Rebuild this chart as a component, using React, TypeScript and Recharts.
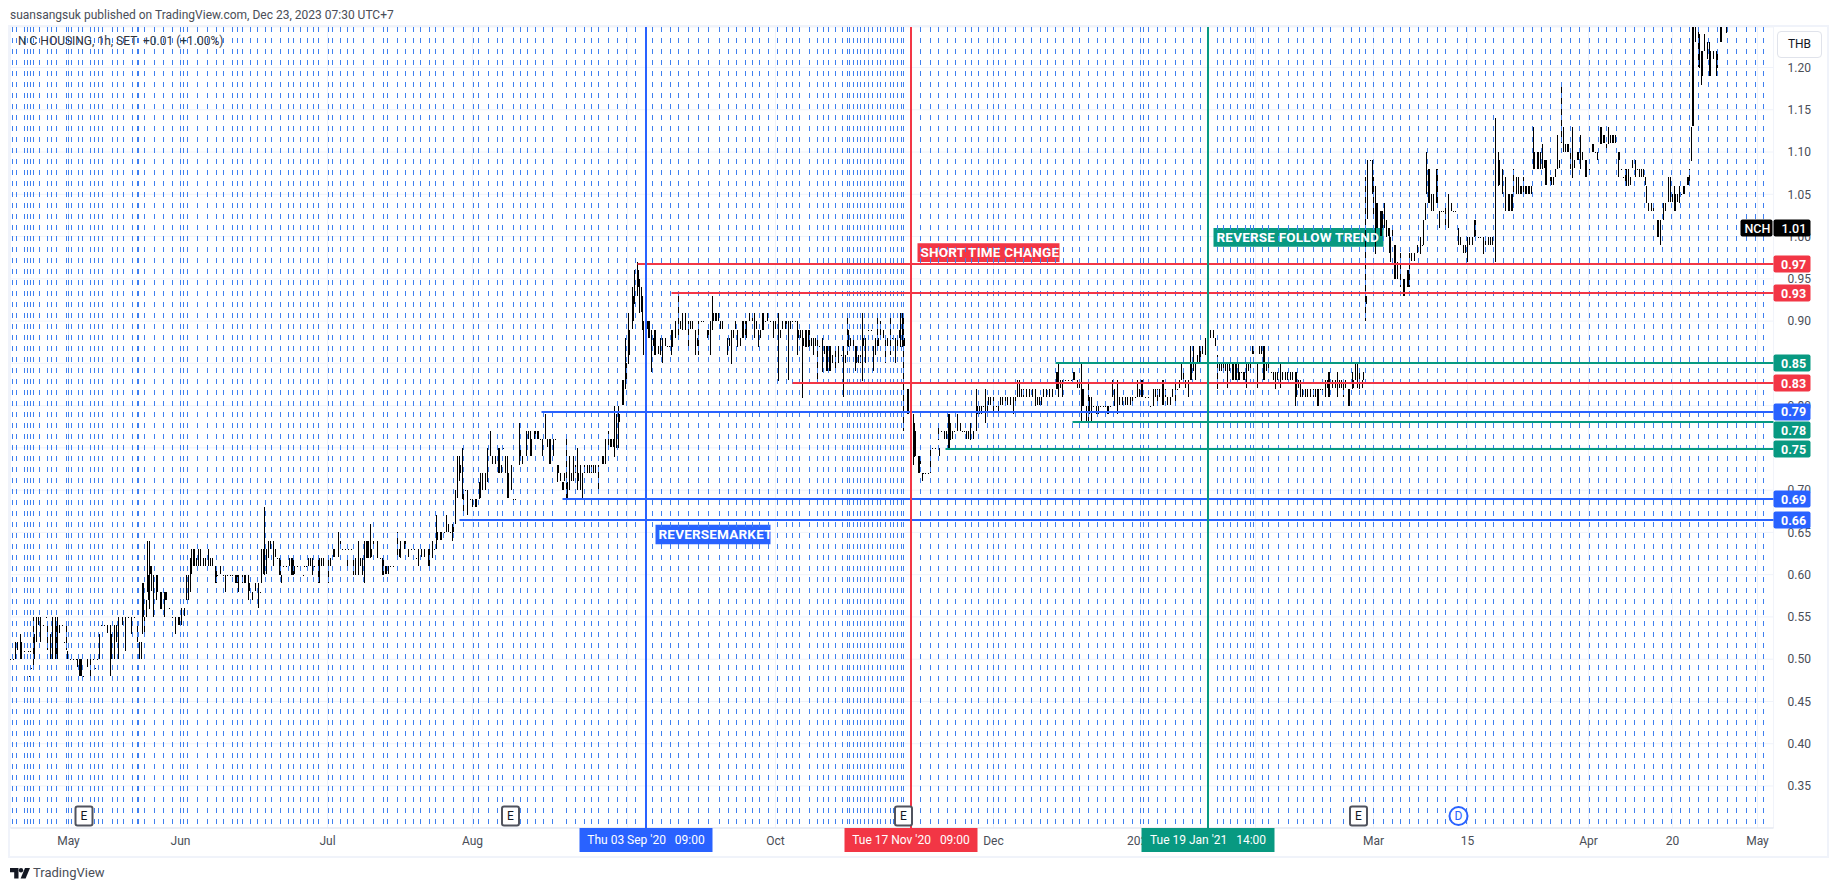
import {
  Bar,
  CartesianGrid,
  ComposedChart,
  ReferenceArea,
  ReferenceDot,
  ReferenceLine,
  XAxis,
  YAxis,
} from "recharts";

const fontFamily = "Roboto, sans-serif";

const priceTicks = [0.35, 0.4, 0.45, 0.5, 0.55, 0.6, 0.65, 0.7, 0.75, 0.8, 0.85, 0.9, 0.95, 1.0, 1.05, 1.1, 1.15, 1.2];
// these two sit fully behind a level tag
const coveredPriceTicks = [0.75, 0.85];
const timeTickSlots = [58, 170, 317, 462, 617, 765, 858, 983, 1130, 1245, 1363, 1457, 1578, 1662, 1747];
// Sep, Nov and Feb are covered by the crosshair date tags, only their grid lines show
const timeTickLabels = ["May", "Jun", "Jul", "Aug", "", "Oct", "", "Dec", "2021", "", "Mar", "15", "Apr", "20", "May"];

// one entry per plotted hour, prices in satang
const barSlots = [
  0,2,3,5,7,10,11,14,18,19,20,21,23,24,26,28,30,33,36,37,
  40,42,45,46,47,49,52,54,56,57,60,63,66,67,69,70,71,73,77,80,
  83,85,87,89,91,94,97,100,101,104,106,108,112,115,118,121,124,127,129,131,
  132,133,134,136,137,138,139,140,141,143,146,147,150,151,154,155,156,159,162,165,
  168,169,171,174,176,178,180,181,183,184,186,188,190,193,195,198,200,202,205,206,
  207,210,213,215,217,220,222,225,226,227,228,232,234,235,238,239,242,245,248,250,
  251,253,254,256,258,260,263,265,267,269,270,271,273,276,279,281,282,283,284,287,
  290,293,294,296,298,300,302,304,308,309,311,313,318,320,323,324,328,330,332,335,
  337,338,341,343,345,348,350,352,354,356,357,358,360,361,363,367,370,372,373,375,
  376,378,380,383,387,389,390,394,395,398,401,404,406,408,411,414,418,419,422,424,
  426,427,430,431,434,436,438,440,442,443,445,447,449,450,452,453,455,457,460,462,
  465,466,469,470,472,475,477,480,482,485,488,489,491,493,495,497,498,501,503,505,
  509,510,512,516,518,520,521,524,525,527,528,530,532,535,537,539,540,543,545,547,
  548,550,552,553,554,556,557,559,561,563,565,567,568,570,572,574,577,579,581,583,
  585,588,592,593,595,598,600,601,603,604,606,608,609,612,613,615,616,618,619,622,
  623,624,627,628,629,631,632,633,636,637,638,639,641,643,644,645,648,650,652,655,
  657,659,661,662,665,668,670,672,675,678,680,682,685,687,688,691,693,697,698,700,
  702,703,705,706,708,710,712,717,719,721,723,725,727,730,732,733,735,736,739,742,
  744,746,748,750,752,753,755,757,760,763,765,768,770,772,775,776,778,780,782,785,
  787,788,790,792,793,795,796,798,799,801,803,805,807,809,812,814,816,817,819,820,
  822,825,828,831,833,835,837,838,840,843,845,846,848,850,852,853,855,858,861,863,
  865,867,868,870,873,875,877,880,882,885,887,889,890,892,893,894,897,898,900,901,
  903,904,905,908,909,910,912,913,915,918,920,922,925,928,929,931,934,936,938,939,
  940,942,944,947,950,952,954,956,958,960,963,966,967,969,971,973,975,977,978,980,
  983,986,988,990,992,995,997,1000,1003,1005,1007,1009,1011,1013,1016,1019,1022,1025,1027,1029,
  1031,1033,1036,1039,1042,1046,1047,1048,1050,1052,1055,1058,1061,1063,1064,1067,1069,1071,1072,1073,
  1076,1078,1079,1081,1083,1086,1088,1090,1093,1095,1097,1098,1100,1102,1104,1107,1109,1112,1115,1117,
  1120,1122,1125,1127,1129,1131,1132,1135,1138,1140,1143,1145,1147,1149,1152,1153,1155,1157,1160,1162,
  1165,1167,1169,1171,1173,1175,1178,1180,1181,1183,1185,1187,1189,1190,1192,1195,1197,1198,1200,1203,
  1205,1207,1209,1211,1213,1215,1217,1219,1222,1223,1225,1226,1228,1229,1231,1233,1234,1236,1238,1240,
  1242,1243,1245,1247,1249,1251,1253,1254,1256,1258,1261,1263,1265,1267,1270,1272,1275,1277,1280,1282,
  1285,1286,1288,1290,1292,1295,1297,1300,1303,1305,1307,1308,1310,1312,1315,1317,1318,1319,1322,1325,
  1327,1329,1331,1333,1335,1338,1339,1342,1343,1345,1347,1349,1352,1353,1355,1356,1357,1360,1362,1363,
  1365,1366,1367,1370,1371,1372,1374,1376,1378,1379,1380,1382,1384,1385,1387,1390,1393,1394,1397,1398,
  1399,1401,1404,1407,1410,1412,1413,1415,1416,1418,1419,1421,1423,1426,1427,1429,1431,1433,1435,1438,
  1441,1443,1445,1448,1450,1453,1455,1457,1459,1462,1464,1465,1468,1470,1473,1475,1478,1480,1482,1485,
  1488,1489,1492,1495,1498,1499,1501,1502,1503,1506,1508,1510,1511,1513,1515,1516,1518,1519,1521,1523,
  1524,1527,1528,1530,1532,1534,1535,1536,1540,1541,1543,1545,1547,1549,1551,1553,1555,1557,1558,1560,
  1562,1564,1567,1568,1570,1572,1575,1576,1579,1582,1583,1585,1587,1590,1591,1593,1594,1596,1598,1600,
  1602,1603,1605,1608,1609,1611,1613,1615,1616,1618,1620,1622,1625,1627,1629,1631,1633,1635,1636,1638,
  1641,1643,1647,1648,1650,1653,1655,1658,1660,1662,1664,1665,1667,1669,1671,1673,1674,1677,1678,1679,
  1681,1682,1683,1685,1688,1689,1691,1692,1694,1697,1699,1700,1703,1706,1707,1710,1711,1716,
];

const barLows = [
  50,49,50,50,51,50,50,51,51,48,51,49,49,50,52,54,52,54,55,51,
  50,50,50,50,50,53,54,52,51,50,50,50,50,49,48,48,48,48,49,48,
  50,49,50,50,54,54,53,48,50,50,52,50,54,51,55,53,55,52,50,50,
  53,55,53,55,58,57,56,60,58,55,57,58,56,56,55,57,57,56,55,53,
  54,54,54,55,57,57,58,60,61,61,61,61,61,61,61,61,61,61,59,59,
  60,60,60,58,60,60,60,59,59,59,58,59,59,59,57,58,57,58,56,58,
  59,60,60,60,62,63,61,62,62,60,60,59,61,61,61,60,60,60,60,61,
  61,60,61,61,61,61,60,61,59,59,61,61,59,61,62,62,62,63,63,63,
  61,63,63,60,60,60,61,60,59,62,62,62,62,62,63,62,62,60,60,60,
  60,60,61,61,62,62,62,63,63,62,63,63,62,61,62,62,61,61,62,63,
  63,64,64,64,65,65,65,65,64,65,66,69,71,72,69,67,70,67,69,68,
  68,68,69,69,70,70,71,74,73,73,72,72,72,75,72,69,69,70,69,69,
  73,74,73,74,76,74,74,76,76,76,76,76,74,76,75,73,73,74,76,71,
  72,71,70,70,71,69,69,70,71,71,72,70,71,70,69,72,72,72,72,72,
  72,70,73,73,73,75,75,75,75,74,75,75,78,80,80,82,83,85,86,89,
  90,92,93,94,91,91,89,86,87,89,88,88,84,87,86,86,86,86,85,87,
  87,87,86,87,88,88,89,89,89,87,89,89,86,87,86,90,90,88,88,86,
  89,90,90,90,90,89,89,86,87,85,88,89,87,87,88,88,88,88,90,90,
  88,89,87,88,89,89,90,90,90,88,89,83,88,89,89,89,83,89,90,90,
  86,88,88,81,87,87,87,87,87,87,86,87,83,87,84,86,84,84,84,84,
  85,84,85,86,81,85,86,87,87,87,84,85,85,85,83,87,85,89,89,84,
  86,87,87,88,88,85,87,86,88,85,87,88,87,87,77,87,79,79,78,78,
  73,74,74,72,72,73,71,72,72,72,72,75,75,76,74,77,76,76,75,75,
  76,76,77,77,77,77,77,76,76,76,76,77,79,79,79,80,78,79,80,80,
  79,80,79,80,80,80,80,80,79,80,81,81,81,81,81,81,81,80,80,80,
  80,81,81,81,81,82,82,81,82,81,83,83,83,83,83,82,82,78,80,80,
  78,78,79,78,80,79,79,80,80,80,79,79,80,81,80,79,80,80,80,80,
  80,80,81,81,81,81,81,81,81,80,80,81,80,81,80,80,81,80,80,81,
  80,82,82,83,83,82,81,83,83,84,83,85,85,85,86,86,87,88,88,88,
  87,82,84,84,84,84,82,84,83,83,83,83,83,83,84,83,83,82,84,84,
  86,86,85,82,86,86,83,83,84,84,84,83,82,83,82,83,83,83,83,83,
  80,81,82,81,81,81,81,81,81,81,80,80,82,82,81,82,81,81,82,82,
  81,82,82,81,82,80,80,82,82,83,82,82,82,83,90,92,102,109,105,102,
  98,101,101,100,100,101,101,100,100,98,97,100,95,95,95,94,93,93,94,94,
  94,97,97,98,98,99,99,102,105,104,104,103,103,104,104,101,103,103,101,101,
  103,103,103,99,99,98,98,97,99,99,100,100,100,100,98,99,99,99,99,97,
  106,106,105,103,103,103,103,103,105,105,105,105,105,105,105,105,105,105,105,108,
  108,108,108,108,108,108,106,106,106,106,106,107,108,108,111,110,110,110,110,108,
  107,108,109,109,108,109,107,107,108,110,110,110,109,111,111,111,111,110,111,111,
  111,111,111,107,109,108,107,106,106,106,106,108,107,108,107,107,107,106,104,103,
  103,103,100,100,99,102,103,104,104,104,103,103,104,104,105,105,105,106,106,106,
  109,113,113,123,120,120,118,119,122,121,119,119,121,119,120,123,123,124,
];

const barHighs = [
  50,49,50,52,52,53,52,51,51,48,51,49,55,53,55,55,55,54,55,54,
  53,55,55,54,55,54,54,52,54,51,50,50,50,50,50,50,50,48,50,50,
  50,49,50,53,54,54,54,54,53,54,54,55,55,55,55,55,55,54,52,52,
  59,59,55,57,64,60,64,61,61,60,60,60,58,58,58,58,58,56,55,55,
  55,55,56,56,60,60,62,63,63,63,62,63,63,62,62,63,62,62,61,61,
  60,61,60,60,60,60,60,60,60,60,60,60,60,60,60,59,58,59,59,58,
  63,63,68,63,64,64,64,63,62,62,62,60,61,61,62,62,62,62,61,61,
  61,60,61,61,62,62,62,61,62,62,62,62,62,62,63,63,65,64,63,63,
  62,63,63,62,62,64,62,62,64,64,64,64,66,63,64,64,62,62,62,61,
  61,61,61,61,65,63,64,64,64,63,63,63,62,63,63,63,63,63,64,63,
  67,65,65,65,65,67,66,65,66,66,70,74,74,73,75,70,70,70,69,69,
  69,69,71,72,72,72,75,77,74,74,75,75,73,75,74,74,72,73,69,69,
  78,75,74,77,77,77,76,77,77,77,77,76,76,79,76,76,76,76,76,73,
  73,72,71,71,72,76,71,74,72,74,73,75,72,73,72,73,73,73,73,73,
  73,73,74,74,76,77,76,76,76,80,79,80,79,83,83,88,85,91,89,94,
  93,96,97,96,95,94,93,90,90,90,90,90,89,88,89,89,87,88,88,88,
  87,87,89,89,90,93,90,91,91,90,90,90,89,88,90,90,90,89,89,90,
  93,91,91,91,91,90,90,88,88,89,89,90,89,88,90,90,90,90,91,91,
  91,90,89,89,91,91,90,91,90,90,90,91,89,90,90,90,90,90,90,90,
  90,89,89,89,88,89,89,89,89,88,88,88,88,87,88,87,87,87,87,87,
  86,87,87,86,87,86,91,89,88,88,87,87,86,86,91,88,88,89,89,87,
  88,91,88,90,89,88,88,91,88,88,88,89,91,91,91,88,82,82,81,81,
  79,78,77,74,74,74,72,72,72,72,75,75,75,78,75,77,77,77,79,79,
  78,77,77,79,78,77,77,77,77,78,77,82,80,80,80,80,82,80,81,81,
  81,80,80,81,81,81,81,81,81,81,83,83,82,82,82,82,82,82,81,81,
  81,82,82,82,82,84,84,85,83,83,83,83,83,84,84,83,83,85,82,82,
  80,83,81,81,80,80,80,80,80,80,80,80,80,83,82,83,81,81,81,81,
  81,81,81,83,82,83,83,81,81,80,82,82,82,82,83,83,82,81,81,82,
  83,82,83,85,84,83,83,87,85,87,85,86,87,87,87,88,88,89,89,89,
  88,86,85,85,85,85,85,85,85,85,85,85,85,84,84,84,84,85,85,85,
  87,87,85,85,87,87,87,87,85,85,84,84,84,84,85,84,84,84,84,84,
  84,84,83,83,82,82,82,82,82,82,82,82,82,82,83,83,84,84,83,83,
  84,83,83,83,83,82,82,84,83,85,85,84,83,84,107,93,109,109,109,107,
  106,104,104,103,103,103,104,102,101,101,100,101,99,99,97,98,95,95,96,96,
  98,98,98,99,100,99,102,104,110,108,108,105,105,108,108,103,103,103,104,105,
  104,103,103,101,100,99,99,100,100,100,102,102,100,100,100,100,100,100,100,114,
  110,109,108,107,105,105,105,105,108,107,107,106,106,107,106,106,106,106,106,113,
  110,110,110,110,111,109,109,109,107,107,107,108,112,109,118,113,111,111,111,110,
  113,109,110,110,112,110,109,109,108,111,111,110,110,113,113,112,112,111,113,112,
  112,112,112,110,110,108,107,108,108,108,107,109,109,108,108,108,108,107,106,104,
  104,104,102,102,102,104,104,107,107,105,106,105,105,106,105,106,106,107,107,108,
  113,125,125,125,125,124,122,122,124,123,123,122,122,122,122,125,125,125,
];

// the dashed session breaks
const sessionBreakSlots = [
  2,6,14,17,20,23,29,37,41,46,56,58,61,68,72,80,84,88,92,102,107,113,122,127,128,134,144,153,162,170,
  173,177,187,197,206,213,222,227,232,240,247,255,261,270,278,283,290,297,303,308,318,322,330,337,343,
  353,363,373,377,387,395,403,410,419,425,433,443,453,463,468,478,487,492,503,510,517,525,533,542,
  556,565,574,581,588,598,607,616,625,635,642,651,660,668,678,688,698,709,718,726,735,742,749,758,767,
  776,782,789,799,807,813,818,825,832,837,839,843,847,850,854,858,862,867,870,875,880,883,887,891,893,
  910,920,928,937,945,955,961,968,977,983,988,995,1005,1013,1021,1030,1037,1045,1053,1062,1069,1078,
  1087,1095,1103,1113,1122,1130,1133,1138,1147,1155,1165,1173,1182,1190,1198,1207,1213,1220,1227,1235,
  1240,1243,1252,1258,1268,1278,1287,1293,1303,1312,1320,1333,1341,1349,1355,1363,1373,1382,1390,1399,
  1408,1417,1427,1435,1447,1456,1465,1475,1483,1493,1503,1513,1522,1531,1540,1551,1560,1569,1579,1588,
  1596,1606,1615,1624,1634,1643,1652,1661,1670,1679,1688,1698,1707,1717,1726,1736,1745,1753,
];

const levelPrices = [0.96752, 0.93321, 0.8504, 0.82674, 0.79244, 0.7806, 0.74866, 0.68951, 0.66467];
const levelLabels = ["0.97", "0.93", "0.85", "0.83", "0.79", "0.78", "0.75", "0.69", "0.66"];
const levelStartSlots = [627, 661, 1045, 782, 531, 1062, 935, 552, 449];
const levelColors = ["#f23645", "#f23645", "#089981", "#f23645", "#2962ff", "#089981", "#089981", "#2962ff", "#2962ff"];
// the 0.78 tag is pushed down so it clears the 0.79 tag
const levelTagShifts = [0, 0, 0, 0, 0, 8, 0, 0, 0];

const markerSlots = [635.5, 900.5, 1197.5];
const markerLabels = ["Thu 03 Sep '20   09:00", "Tue 17 Nov '20   09:00", "Tue 19 Jan '21   14:00"];
const markerColors = ["#2962ff", "#f23645", "#089981"];

const noteTexts = ["SHORT TIME CHANGE", "REVERSE FOLLOW TREND", "REVERSEMARKET"];
const noteStartSlots = [907, 1203, 645];
const noteEndSlots = [1049, 1373, 760];
const noteTops = [0.992, 1.01, 0.659];
const noteBottoms = [0.97, 0.988, 0.636];
const noteColors = ["#f23645", "#089981", "#2962ff"];

const earningsSlots = [73.5, 500, 893, 1348];
const dividendSlots = [1448];
const eventPrice = 0.3145;

const symbolName = "NCH";
const lastPrice = 1.01;

const rows = barSlots.map((slot, i) => ({
  slot,
  range: [barLows[i] / 100, barHighs[i] / 100],
}));

const lastSlot = 1763;
const priceDomain = [0.3003, 1.2479];

function CandleStick(props: any) {
  const { x, y, height } = props;
  if (x == null || y == null) return null;
  return (
    <rect
      x={Math.round(x)}
      y={Math.round(y)}
      width={1}
      height={Math.max(1, Math.round(height))}
      fill="#000000"
    />
  );
}

function LevelTag({ viewBox, text, color, shift }: any) {
  const right = viewBox.x + viewBox.width;
  const y = viewBox.y + shift;
  return (
    <g>
      <rect x={right} y={y - 8.5} width={37} height={17} rx={2} fill={color} />
      <text x={right + 7.5} y={y + 4.5} fill="#ffffff" fontSize={12.5} fontWeight={700} fontFamily={fontFamily}>
        {text}
      </text>
    </g>
  );
}

function LastPriceTag({ viewBox }: any) {
  const right = viewBox.x + viewBox.width;
  const y = viewBox.y;
  return (
    <g>
      <rect x={right - 33} y={y - 8.5} width={32} height={17} rx={2} fill="#000000" />
      <rect x={right} y={y - 8.5} width={37} height={17} rx={2} fill="#000000" />
      <text x={right - 29} y={y + 4.5} fill="#ffffff" fontSize={12.5} fontWeight={500} fontFamily={fontFamily}>
        {symbolName}
      </text>
      <text x={right + 8} y={y + 4.5} fill="#ffffff" fontSize={12.5} fontWeight={500} fontFamily={fontFamily}>
        {lastPrice.toFixed(2)}
      </text>
    </g>
  );
}

function TimeTag({ viewBox, text, color }: any) {
  const bottom = viewBox.y + viewBox.height;
  return (
    <g>
      <rect x={viewBox.x - 66.5} y={bottom} width={133} height={24} fill={color} />
      <text
        x={viewBox.x}
        y={bottom + 16}
        textAnchor="middle"
        fill="#ffffff"
        fontSize={12}
        fontFamily={fontFamily}
        style={{ whiteSpace: "pre" }}
      >
        {text}
      </text>
    </g>
  );
}

function EventMark({ cx, cy, letter }: any) {
  return (
    <g>
      <rect x={cx - 8.5} y={cy - 9.5} width={17} height={19} rx={2} fill="#ffffff" stroke="#50535e" strokeWidth={2} />
      <text x={cx} y={cy + 4.5} textAnchor="middle" fill="#131722" fontSize={12} fontFamily={fontFamily}>
        {letter}
      </text>
    </g>
  );
}

function DividendMark({ cx, cy, letter }: any) {
  return (
    <g>
      <circle cx={cx} cy={cy} r={9} fill="#ffffff" stroke="#2962ff" strokeWidth={2} />
      <text x={cx} y={cy + 4.5} textAnchor="middle" fill="#2962ff" fontSize={12} fontFamily={fontFamily}>
        {letter}
      </text>
    </g>
  );
}

export default function App() {
  return (
    <div style={{ position: "absolute", left: 0, top: 0, width: 1835, height: 891, background: "#ffffff", fontFamily }}>
      <div style={{ position: "absolute", left: 10, top: 8, fontSize: 12, color: "#4a4e57", whiteSpace: "pre" }}>
        suansangsuk published on TradingView.com, Dec 23, 2023 07:30 UTC+7
      </div>
      <div
        style={{
          position: "absolute",
          left: 8,
          top: 25,
          width: 1817,
          height: 829,
          border: "2px solid #f0f3fa",
        }}
      />
      <div style={{ position: "absolute", left: 0, top: 0 }}>
        <ComposedChart
          width={1835}
          height={891}
          data={rows}
          margin={{ top: 27, right: 10.5, bottom: 39, left: 10.5 }}
        >
          <CartesianGrid stroke="#f0f3fa" strokeWidth={1} />
          <XAxis
            dataKey="slot"
            type="number"
            domain={[0, lastSlot]}
            ticks={timeTickSlots}
            interval={0}
            height={24}
            tickFormatter={(slot) => timeTickLabels[timeTickSlots.indexOf(slot)]}
            tick={{ fontSize: 12, fill: "#4a4e57", fontFamily }}
            tickLine={false}
            axisLine={{ stroke: "#e0e3eb" }}
            tickMargin={2}
          />
          <YAxis
            orientation="right"
            type="number"
            domain={priceDomain}
            allowDataOverflow
            ticks={priceTicks}
            interval={0}
            width={51}
            tickFormatter={(value) => (coveredPriceTicks.includes(value) ? "" : value.toFixed(2))}
            tick={{ fontSize: 12, fill: "#4a4e57", fontFamily }}
            tickLine={false}
            axisLine={false}
            tickMargin={8}
          />
          {sessionBreakSlots.map((slot) => (
            <ReferenceLine
              key={`break-${slot}`}
              segment={[
                { x: slot, y: priceDomain[1] },
                { x: slot, y: priceDomain[0] },
              ]}
              stroke="#3f7fee"
              strokeWidth={1}
              strokeDasharray="5 6"
            />
          ))}
          {noteTexts.map((text, i) => (
            <ReferenceArea
              key={text}
              x1={noteStartSlots[i]}
              x2={noteEndSlots[i]}
              y1={noteBottoms[i]}
              y2={noteTops[i]}
              fill={noteColors[i]}
              fillOpacity={1}
              stroke="none"
              label={{
                value: text,
                position: "insideLeft",
                offset: 3,
                fill: "#ffffff",
                fontSize: 13.5,
                fontWeight: 700,
                letterSpacing: 0.2,
                fontFamily,
              }}
            />
          ))}
          <Bar dataKey="range" barSize={1} shape={<CandleStick />} isAnimationActive={false} />
        </ComposedChart>
      </div>
      {/* second chart on the same scales, so lines and tags paint over the axis text */}
      <div style={{ position: "absolute", left: 0, top: 0 }}>
        <ComposedChart
          width={1835}
          height={891}
          data={rows}
          margin={{ top: 27, right: 61.5, bottom: 63, left: 10.5 }}
        >
          <XAxis dataKey="slot" type="number" domain={[0, lastSlot]} hide />
          <YAxis type="number" domain={priceDomain} allowDataOverflow hide />
          {levelPrices.map((price, i) => (
            <ReferenceLine
              key={levelLabels[i]}
              segment={[
                { x: levelStartSlots[i], y: price },
                { x: lastSlot, y: price },
              ]}
              stroke={levelColors[i]}
              strokeWidth={2}
              label={(props: any) => (
                <LevelTag viewBox={props.viewBox} text={levelLabels[i]} color={levelColors[i]} shift={levelTagShifts[i]} />
              )}
            />
          ))}
          {markerSlots.map((slot, i) => (
            <ReferenceLine
              key={markerLabels[i]}
              x={slot}
              stroke={markerColors[i]}
              strokeWidth={2}
              label={(props: any) => <TimeTag viewBox={props.viewBox} text={markerLabels[i]} color={markerColors[i]} />}
            />
          ))}
          <ReferenceLine
            segment={[
              { x: lastSlot - 1, y: lastPrice },
              { x: lastSlot, y: lastPrice },
            ]}
            stroke="none"
            label={(props: any) => <LastPriceTag viewBox={props.viewBox} />}
          />
          {earningsSlots.map((slot) => (
            <ReferenceDot key={`e-${slot}`} x={slot} y={eventPrice} shape={<EventMark letter="E" />} />
          ))}
          {dividendSlots.map((slot) => (
            <ReferenceDot key={`d-${slot}`} x={slot} y={eventPrice} shape={<DividendMark letter="D" />} />
          ))}
        </ComposedChart>
      </div>
      <div style={{ position: "absolute", left: 18, top: 34, fontSize: 12, color: "#2f333c", whiteSpace: "pre" }}>
        {"N C HOUSING, 1h, SET  +0.01 (+1.00%)"}
      </div>
      <div
        style={{
          position: "absolute",
          left: 1777,
          top: 31,
          width: 43,
          height: 25,
          border: "1px solid #e0e3eb",
          borderRadius: 4,
          background: "#ffffff",
          fontSize: 12,
          lineHeight: "25px",
          textAlign: "center",
          color: "#131722",
        }}
      >
        THB
      </div>
      <svg style={{ position: "absolute", left: 10, top: 868 }} width={20} height={11} viewBox="0 0 20 11">
        <path d="M0 0h8.5v10.5H4.2V4.3H0z" fill="#131722" />
        <circle cx={11} cy={2.2} r={2.2} fill="#131722" />
        <path d="M15 0h5l-4.4 10.5h-5z" fill="#131722" />
      </svg>
      <div style={{ position: "absolute", left: 33, top: 865, fontSize: 13, color: "#4a4e57" }}>TradingView</div>
    </div>
  );
}
